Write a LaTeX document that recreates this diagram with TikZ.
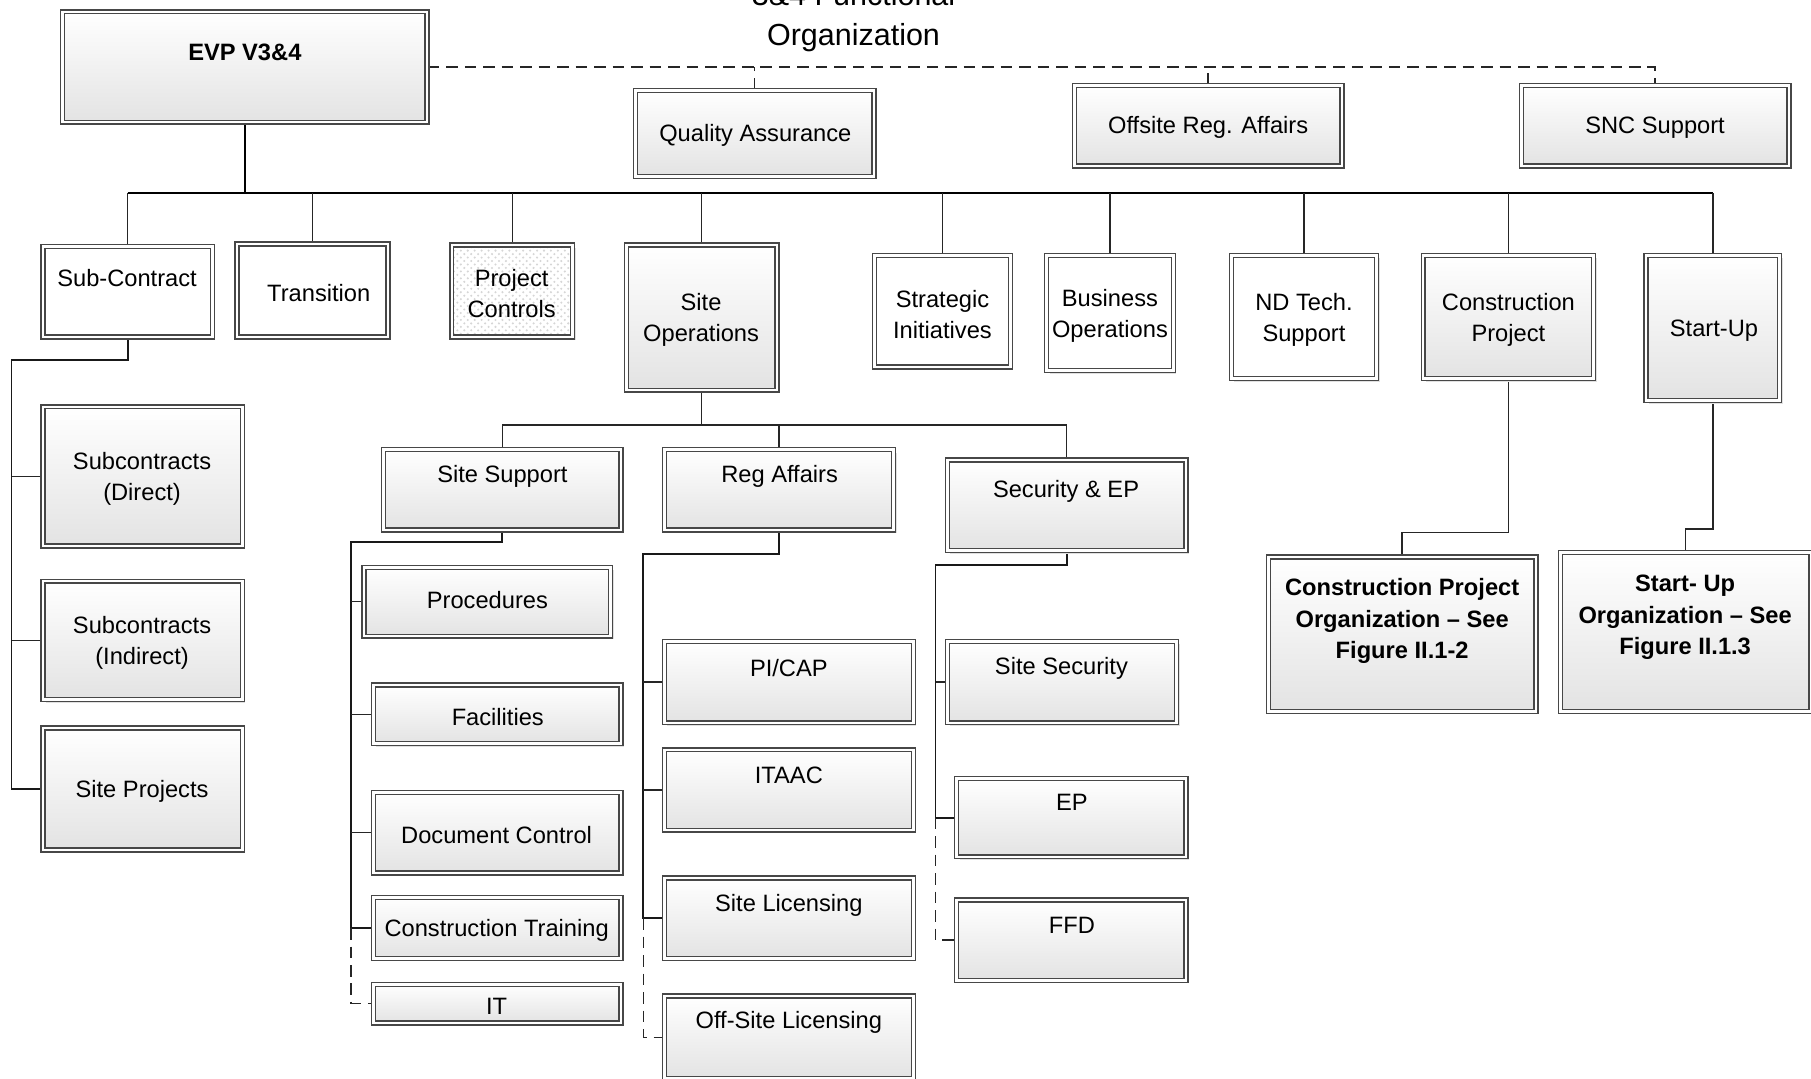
\documentclass[tikz,border=0pt]{standalone}
\usepackage{fontspec}
\setmainfont{Liberation Sans}
\usetikzlibrary{shadows,patterns,backgrounds}
\newcommand\orgbox[6]{%
  \pgfmathsetmacro\obw{(#5-#3)*0.5-2.2}%
  \pgfmathsetmacro\obh{(#6-#4)*0.5-2.2}%
  \node[#1, minimum width=\obw pt, minimum height=\obh pt] (#2) at ({(#3+#5)/2},{(#4+#6)/2}) {};}
\begin{document}
\begin{tikzpicture}[x=0.5pt,y=-0.5pt,
  conn/.style={draw=black!85, line width=0.6pt},
  trunk/.style={draw=black!90, line width=0.8pt},
  busline/.style={draw=black, line width=1.1pt},
  dconn/.style={draw=black!85, line width=0.6pt, dash pattern=on 5pt off 3pt},
  boxbase/.style={rectangle, draw=black!72, line width=0.6pt, double=white, double distance=1.1pt, inner sep=0pt,
    drop shadow={shadow xshift=1.3pt, shadow yshift=-1.3pt, fill=black!12, opacity=1}},
  gbox/.style={boxbase, top color=white, bottom color=black!11},
  wbox/.style={boxbase, fill=white},
  pbox/.style={boxbase, preaction={fill=white}, pattern=crosshatch dots, pattern color=black!16},
  txt/.style={font=\fontsize{10.25}{13.6}\selectfont, align=center, inner sep=0pt, yshift=-1.3pt},
  btxt/.style={font=\fontsize{10.25}{13.6}\selectfont\bfseries, align=center, inner sep=0pt, yshift=-1.3pt},
]
\useasboundingbox (0,0) rectangle (1568,934);
\clip (0,0) rectangle (1568,934);

% title
\node[font=\fontsize{13.2}{17}\selectfont, align=center, anchor=south, inner sep=0pt] (title) at (739,45) {3\&4 Functional\\Organization};

% top level
\orgbox{gbox}{evp}{52}{8}{372}{108}
\orgbox{gbox}{qa}{548}{76}{759}{155}
\orgbox{gbox}{ora}{928}{72}{1164}{146}
\orgbox{gbox}{snc}{1315}{72}{1551}{146}
\node[btxt] (evp-t) at (212,43) {EVP V3\&4};
\node[txt] (qa-t) at (654,115) {Quality Assurance};
\node[txt] (ora-t) at (1046,108) {Offsite Reg. Affairs};
\node[txt] (snc-t) at (1433,108) {SNC Support};

% second level
\orgbox{wbox}{sc}{35}{211}{186}{294}
\orgbox{wbox}{tr}{203}{209}{338}{294}
\orgbox{pbox}{pc}{389}{210}{498}{294}
\orgbox{gbox}{so}{540}{210}{675}{340}
\orgbox{wbox}{si}{755}{219}{877}{320}
\orgbox{wbox}{bo}{904}{219}{1018}{323}
\orgbox{wbox}{nd}{1064}{219}{1194}{330}
\orgbox{gbox}{cp}{1230}{219}{1382}{330}
\orgbox{gbox}{su}{1423}{219}{1543}{349}
\node[txt] (sc-t) at (110,238) {Sub-Contract};
\node[txt] (tr-t) at (276,251) {Transition};
\node[txt] (pc-t) at (443,251.5) {Project\\Controls};
\node[txt] (so-t) at (607,274.5) {Site\\Operations};
\node[txt] (si-t) at (816,269.5) {Strategic\\Initiatives};
\node[txt] (bo-t) at (961,271) {Business\\Operations};
\node[txt] (nd-t) at (1129,274.5) {ND Tech.\\Support};
\node[txt] (cp-t) at (1306,274.5) {Construction\\Project};
\node[txt] (su-t) at (1484,284) {Start-Up};

% sub-contract children
\orgbox{gbox}{sd}{35}{350}{212}{475}
\orgbox{gbox}{sn}{35}{501}{212}{608}
\orgbox{gbox}{sp}{35}{628}{212}{738}
\node[txt] (sd-t) at (123,412) {Subcontracts\\(Direct)};
\node[txt] (sn-t) at (123,554) {Subcontracts\\(Indirect)};
\node[txt] (sp-t) at (123,683) {Site Projects};

% site operations children
\orgbox{gbox}{ss}{330}{387}{540}{461}
\orgbox{gbox}{ra}{573}{387}{776}{461}
\orgbox{gbox}{sec}{818}{396}{1029}{479}
\node[txt] (ss-t) at (435,410) {Site Support};
\node[txt] (ra-t) at (675,410) {Reg Affairs};
\node[txt] (sec-t) at (923,423) {Security \& EP};

% site support children
\orgbox{gbox}{proc}{313}{489}{531}{553}
\orgbox{gbox}{fac}{321}{591}{540}{646}
\orgbox{gbox}{dc}{321}{684}{540}{758}
\orgbox{gbox}{ct}{321}{775}{540}{832}
\orgbox{gbox}{it}{321}{850}{540}{888}
\node[txt] (proc-t) at (422,517) {Procedures};
\node[txt] (fac-t) at (431,618) {Facilities};
\node[txt] (dc-t) at (430,720) {Document Control};
\node[txt] (ct-t) at (430,803) {Construction Training};
\node[txt] (it-t) at (430,869) {IT};

% reg affairs children
\orgbox{gbox}{pi}{573}{553}{793}{628}
\orgbox{gbox}{itaac}{573}{647}{793}{721}
\orgbox{gbox}{sl}{573}{758}{793}{832}
\orgbox{gbox}{osl}{573}{860}{793}{936}
\node[txt] (pi-t) at (683,576) {PI/CAP};
\node[txt] (itaac-t) at (683,669) {ITAAC};
\node[txt] (sl-t) at (683,781) {Site Licensing};
\node[txt] (osl-t) at (683,883) {Off-Site Licensing};

% security children
\orgbox{gbox}{ssec}{818}{553}{1021}{628}
\orgbox{gbox}{ep}{826}{672}{1029}{744}
\orgbox{gbox}{ffd}{826}{777}{1029}{851}
\node[txt] (ssec-t) at (919,576) {Site Security};
\node[txt] (ep-t) at (928,692) {EP};
\node[txt] (ffd-t) at (928,799) {FFD};

% construction / start-up orgs
\orgbox{gbox}{cpo}{1096}{480}{1332}{618}
\orgbox{gbox}{suo}{1349}{476}{1570}{618}
\node[btxt] (cpo-t) at (1214,535) {Construction Project\\Organization -- See\\Figure II.1-2};
\node[btxt] (suo-t) at (1459,532) {Start- Up\\Organization -- See\\Figure II.1.3};

\begin{pgfonlayer}{background}
% dashed top links
\draw[dconn] (evp.east) -| (snc.north);
\draw[dconn] (qa.north) -- (qa.north |- evp.east);
\draw[dconn] (ora.north) -- (ora.north |- evp.east);
% main bus
\coordinate (busY) at (0,167);
\draw[busline] (evp.south) -- (evp.south |- busY);
\draw[busline] (sc.north |- busY) -- (su.north |- busY);
\foreach \n in {sc,tr,pc,so,si,bo,nd,cp,su}
  \draw[conn] (\n.north) -- (\n.north |- busY);
% sub-contract
\coordinate (scT) at (10,312);
\draw[trunk] (sc.south) |- (scT) |- (sp.west);
\draw[conn] (scT |- sd.west) -- (sd.west);
\draw[conn] (scT |- sn.west) -- (sn.west);
% site operations
\coordinate (soY) at (0,368);
\draw[conn] (so.south) -- (so.south |- soY);
\draw[conn] (ss.north) |- (sec.north |- soY) -- (sec.north);
\draw[conn] (ra.north) -- (ra.north |- soY);
% site support
\coordinate (ssT) at (304,469);
\draw[trunk] (ss.south) |- (ssT) |- (ct.west);
\foreach \n in {proc,fac,dc}
  \draw[conn] (ssT |- \n.west) -- (\n.west);
\draw[dconn] (ssT |- ct.west) |- (it.west);
% reg affairs
\coordinate (raT) at (557,480);
\draw[trunk] (ra.south) |- (raT) |- (sl.west);
\foreach \n in {pi,itaac}
  \draw[conn] (raT |- \n.west) -- (\n.west);
\draw[dconn] (raT |- sl.west) |- (osl.west);
% security
\coordinate (secT) at (810,489);
\draw[trunk] (sec.south) |- (secT) |- (ep.west);
\draw[conn] (secT |- ssec.west) -- (ssec.west);
\draw[dconn] (secT |- ep.west) |- (ffd.west);
% construction / start-up
\coordinate (cpY) at (0,461);
\draw[conn] (cp.south) -- (cp.south |- cpY) -| (cpo.north);
\coordinate (suY) at (0,458);
\draw[conn] (su.south) -- (su.south |- suY) -| (suo.north);
\end{pgfonlayer}
\end{tikzpicture}
\end{document}
